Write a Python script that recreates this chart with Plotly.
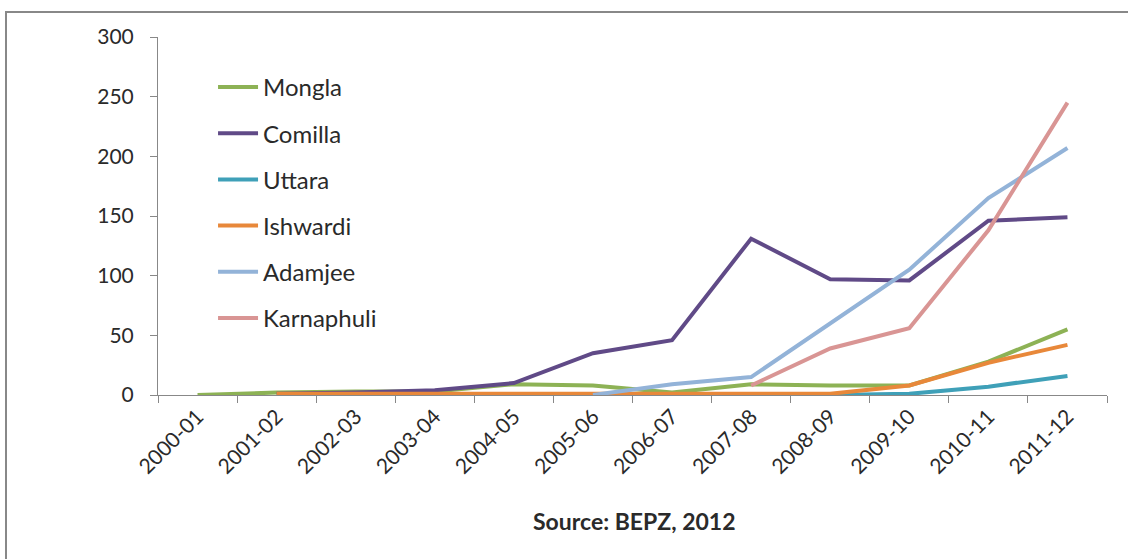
import plotly.graph_objects as go

years = ["2000-01", "2001-02", "2002-03", "2003-04", "2004-05", "2005-06",
         "2006-07", "2007-08", "2008-09", "2009-10", "2010-11", "2011-12"]

mongla = [0, 2, 3, 3, 9, 8, 2, 9, 8, 8, 28, 55]
comilla = [None, 1, 2, 4, 10, 35, 46, 131, 97, 96, 146, 149]
uttara = [None, None, None, None, None, None, None, None, 0, 1, 7, 16]
ishwardi = [None, 1, 1, 1, 1, 1, 1, 1, 1, 8, 27, 42]
adamjee = [None, None, None, None, None, 0, 9, 15, 60, 105, 165, 207]
karnaphuli = [None, None, None, None, None, None, None, 8, 39, 56, 138, 245]

series = [
    ("Mongla", mongla, "#8DB255"),
    ("Comilla", comilla, "#604A87"),
    ("Uttara", uttara, "#3FA0B8"),
    ("Ishwardi", ishwardi, "#E8883A"),
    ("Adamjee", adamjee, "#93B3D8"),
    ("Karnaphuli", karnaphuli, "#D99594"),
]

FONT = "Lato, 'Open Sans', sans-serif"
TXT = "#2a2a2a"

fig = go.Figure()
for name, vals, col in series:
    fig.add_trace(go.Scatter(
        x=years, y=vals, name=name, mode="lines",
        line=dict(color=col, width=4), legendgroup=name,
    ))

fig.update_layout(
    width=1128, height=559,
    margin=dict(l=158, r=21, t=37, b=164),
    paper_bgcolor="white", plot_bgcolor="white",
    font=dict(family=FONT, size=20, color=TXT),
    showlegend=True,
    legend=dict(
        x=0.058, y=0.922, xanchor="left", yanchor="top",
        bgcolor="rgba(0,0,0,0)", font=dict(size=24, color=TXT),
        tracegroupgap=12, itemwidth=40,
    ),
    xaxis=dict(
        type="category", tickangle=-45, showgrid=False,
        showline=True, linecolor="#888888", linewidth=1,
        ticks="outside", ticklen=7, tickcolor="#888888", tickson="boundaries",
        tickfont=dict(size=21, color=TXT), range=[-0.5, 11.5],
    ),
    yaxis=dict(
        range=[0, 300], dtick=50, showgrid=False,
        showline=True, linecolor="#888888", linewidth=1,
        ticks="outside", ticklen=7, tickcolor="#888888",
        tickfont=dict(size=21, color=TXT), zeroline=False,
        ticklabelstandoff=12,
    ),
    shapes=[dict(
        type="rect", xref="paper", yref="paper",
        x0=(6 - 158) / 949, x1=1.2, y0=-1.0, y1=(395 - 12) / 358,
        line=dict(color="#888888", width=2), fillcolor="rgba(0,0,0,0)",
        layer="below",
    )],
    annotations=[dict(
        text="<b>Source: BEPZ, 2012</b>", xref="paper", yref="paper",
        x=(634 - 158) / 949, y=-(521 - 395) / 358, xanchor="center", yanchor="middle",
        showarrow=False, font=dict(size=23, color=TXT),
    )],
)

fig.write_html("out.html")
